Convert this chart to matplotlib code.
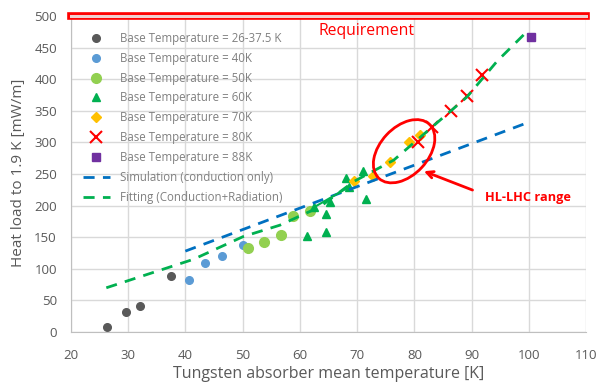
import numpy as np
import matplotlib
matplotlib.use("Agg")
import matplotlib.pyplot as plt
import matplotlib.transforms as mtransforms
from matplotlib.patches import Ellipse

plt.rcParams['font.family'] = ['Open Sans', 'DejaVu Sans']

# 测量数据 (按基底温度分组)
t_26 = [26.4, 29.6, 32.0, 37.5]
q_26 = [8, 32, 41, 89]
t_40 = [40.6, 43.4, 46.4, 50.1]
q_40 = [82, 110, 120, 138]
t_50 = [50.9, 53.8, 56.7, 58.8, 61.7]
q_50 = [133, 142, 153, 183, 191]
t_60 = [61.3, 62.4, 64.6, 64.5, 65.3, 68.0, 68.5, 71.1, 71.6]
q_60 = [152, 197, 158, 187, 205, 243, 229, 255, 210]
t_70 = [69.5, 72.7, 75.8, 79.1, 80.9]
q_70 = [239, 247, 269, 300, 311]
t_80 = [80.6, 83.1, 86.4, 89.2, 91.8]
q_80 = [300, 325, 350, 373, 407]
t_88 = [100.4]
q_88 = [467]

# 模拟 (仅传导) 与拟合 (传导+辐射)
t_sim = [40, 100]
q_sim = [128, 332]
t_fit = [26.2, 41.4, 50.1, 56.5, 63.5, 69.4, 76.4, 82.8, 89.2, 94.4, 99.4]
q_fit = [70, 115, 151, 169, 198, 238, 272, 322, 372, 428, 473]
t_seg = [62.4, 68.5]
q_seg = [197, 229]

requirement = 500

fig = plt.figure(figsize=(6, 3.87), dpi=100)
ax = fig.add_axes([0.118, 0.142, 0.859, 0.825])

ax.plot(t_26, q_26, 'o', color='#595959', ms=5.5, label='Base Temperature = 26-37.5 K')
ax.plot(t_40, q_40, 'o', color='#5B9BD5', ms=5.5, label='Base Temperature = 40K')
ax.plot(t_50, q_50, 'o', color='#92D050', ms=7, label='Base Temperature = 50K')
ax.plot(t_60, q_60, '^', color='#00B050', ms=6, label='Base Temperature = 60K')
ax.plot(t_70, q_70, 'D', color='#FFC000', ms=5, label='Base Temperature = 70K')
ax.plot(t_80, q_80, 'x', color='#FF0000', ms=9, mew=1.5, label='Base Temperature = 80K')
ax.plot(t_88, q_88, 's', color='#7030A0', ms=6, label='Base Temperature = 88K')
ax.plot(t_sim, q_sim, '--', color='#0070C0', lw=2, dashes=(4, 3),
        label='Simulation (conduction only)')
ax.plot(t_fit, q_fit, '--', color='#00B050', lw=2, dashes=(4, 3),
        label='Fitting (Conduction+Radiation)')
ax.plot(t_seg, q_seg, '-', color='#00B050', lw=1.5)

# 要求线
ax.axhline(requirement, color='#FF0000', lw=5.5, clip_on=False, zorder=5)
ax.axhline(requirement, color='#F0D0D0', lw=2.2, clip_on=False, zorder=6)
ax.text(71.6, 476, 'Requirement', color='#FF0000', fontsize=11.3, ha='center', va='center')

# HL-LHC 范围标注
trans = fig.dpi_scale_trans + mtransforms.ScaledTranslation(78.2, 286, ax.transData)
ax.add_patch(Ellipse((0, 0), 0.74, 0.48, angle=47, transform=trans,
                     fill=False, edgecolor='#FF0000', lw=2, zorder=7))
ax.annotate('', xy=(81.2, 256), xytext=(90.6, 223),
            arrowprops=dict(arrowstyle='->', color='#FF0000', lw=2, mutation_scale=12))
ax.text(92.4, 213, 'HL-LHC range', color='#FF0000', fontsize=9.2, fontweight='bold',
        va='center', ha='left')

ax.set_xlim(20, 110)
ax.set_ylim(0, 505)
ax.set_xticks(np.arange(20, 111, 10))
ax.set_yticks(np.arange(0, 501, 50))
ax.grid(True, color='#D9D9D9', lw=1)
ax.set_axisbelow(True)
ax.tick_params(length=0, labelsize=9.5, labelcolor='#595959')
ax.tick_params(axis='x', pad=12)
ax.tick_params(axis='y', pad=10)
for s in ['top', 'right']:
    ax.spines[s].set_visible(False)
for s in ['left', 'bottom']:
    ax.spines[s].set_color('#BFBFBF')

ax.set_xlabel('Tungsten absorber mean temperature [K]', fontsize=11.5, color='#595959',
              labelpad=3)
ax.set_ylabel('Heat load to 1.9 K [mW/m]', fontsize=11, color='#595959', labelpad=6)

ax.legend(loc='upper left', frameon=False, fontsize=8.3, labelcolor='#808080',
          handlelength=2.3, handletextpad=0.9, borderaxespad=0.0, labelspacing=0.6,
          bbox_to_anchor=(0.015, 0.955))

fig.savefig('out.png', dpi=100)
